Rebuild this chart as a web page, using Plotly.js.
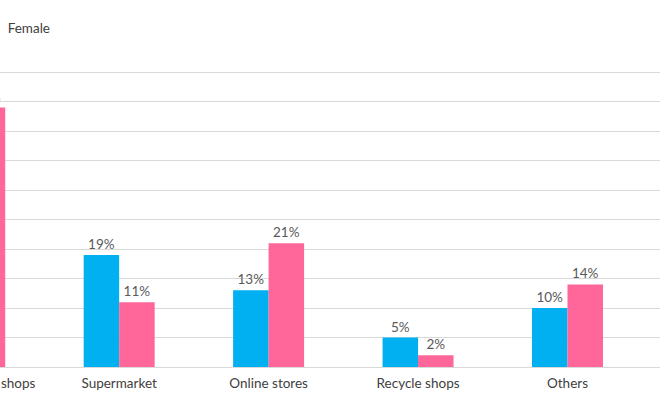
<!DOCTYPE html>
<html>
<head>
<meta charset="utf-8">
<title>Where clothes are bought, by gender</title>
<script src="https://cdn.plot.ly/plotly-3.0.1.min.js"></script>
<style>
  html, body { margin: 0; padding: 0; background: #fff; overflow: hidden; }
  /* the reference is a crop of a wider chart: draw it whole, show the right part */
  #chart { width: 860px; height: 400px; margin-left: -200px; }
</style>
</head>
<body>
<div id="chart"></div>
<script>
// values (share of answers)
var places = ["Brand speciality shops", "Supermarket", "Online stores", "Recycle shops", "Others"];
var male   = [0.48, 0.19, 0.13, 0.05, 0.10];   // first one is cut off in the picture, guessed
var female = [0.44, 0.11, 0.21, 0.02, 0.14];

var blue = "#00B0F0";
var pink = "#FF6699";
var fontFam = "Lato, 'Open Sans', sans-serif";

function bars(name, vals, colour) {
  return {
    type: "bar",
    name: name,
    x: places,
    y: vals,
    marker: { color: colour },
    text: vals.map(function (v) { return Math.round(v * 100) + "%"; }),
    textposition: "outside",
    textfont: { family: fontFam, size: 13.5, color: "#595959" },
    cliponaxis: false,
    hoverinfo: "name+y"
  };
}

var data = [bars("Male", male, blue), bars("Female", female, pink)];

var layout = {
  width: 860,
  height: 400,
  margin: { l: 94.75, r: 0, t: 70.8, b: 33, autoexpand: false },
  paper_bgcolor: "#fff",
  plot_bgcolor: "#fff",
  font: { family: fontFam, size: 13.5, color: "#404040" },
  barmode: "group",
  bargap: 0.525,
  bargroupgap: 0,
  showlegend: true,
  legend: {
    orientation: "h",
    x: -0.0022, xanchor: "left",
    y: 1.1445, yanchor: "middle",
    font: { size: 13.5, color: "#404040" }
  },
  xaxis: {
    type: "category",
    range: [-0.5, 4.619],
    showgrid: false,
    zeroline: false,
    showline: false,
    ticks: "",
    ticklabelstandoff: 6,
    tickfont: { size: 13.5, color: "#404040" }
  },
  yaxis: {
    range: [0, 0.502],
    dtick: 0.05,
    showticklabels: false,
    showgrid: true,
    gridcolor: "#D9D9D9",
    gridwidth: 1,
    zeroline: true,
    zerolinecolor: "#D9D9D9",
    zerolinewidth: 1,
    showline: false,
    ticks: ""
  }
};

Plotly.newPlot("chart", data, layout, { staticPlot: true });
</script>
</body>
</html>
